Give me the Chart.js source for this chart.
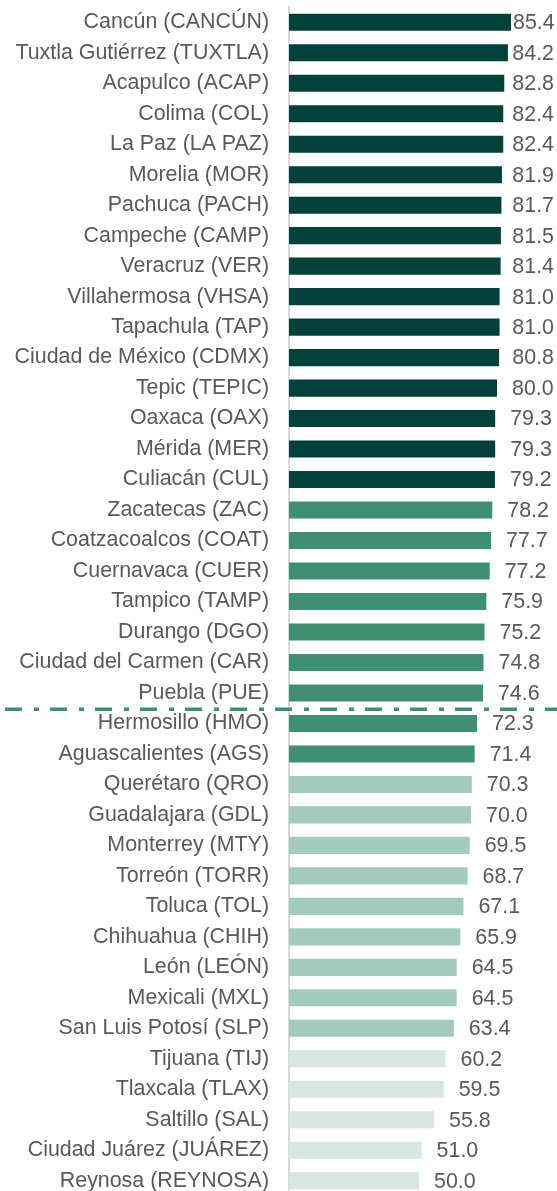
<!DOCTYPE html>
<html lang="es">
<head>
<meta charset="utf-8">
<title>Ciudades</title>
<script src="https://cdn.jsdelivr.net/npm/chart.js@4"></script>
<style>
    html, body { margin: 0; padding: 0; background: #fff; overflow: hidden; }
    #wrap { position: relative; width: 557px; height: 1196px; }
</style>
</head>
<body>
<div id="wrap"><canvas id="cityChart"></canvas></div>
<script>
const cities = [
    'Cancún (CANCÚN)', 'Tuxtla Gutiérrez (TUXTLA)', 'Acapulco (ACAP)', 'Colima (COL)',
    'La Paz (LA PAZ)', 'Morelia (MOR)', 'Pachuca (PACH)', 'Campeche (CAMP)',
    'Veracruz (VER)', 'Villahermosa (VHSA)', 'Tapachula (TAP)', 'Ciudad de México (CDMX)',
    'Tepic (TEPIC)', 'Oaxaca (OAX)', 'Mérida (MER)', 'Culiacán (CUL)',
    'Zacatecas (ZAC)', 'Coatzacoalcos (COAT)', 'Cuernavaca (CUER)', 'Tampico (TAMP)',
    'Durango (DGO)', 'Ciudad del Carmen (CAR)', 'Puebla (PUE)', 'Hermosillo (HMO)',
    'Aguascalientes (AGS)', 'Querétaro (QRO)', 'Guadalajara (GDL)', 'Monterrey (MTY)',
    'Torreón (TORR)', 'Toluca (TOL)', 'Chihuahua (CHIH)', 'León (LEÓN)',
    'Mexicali (MXL)', 'San Luis Potosí (SLP)', 'Tijuana (TIJ)', 'Tlaxcala (TLAX)',
    'Saltillo (SAL)', 'Ciudad Juárez (JUÁREZ)', 'Reynosa (REYNOSA)'
];
const scores = [
    85.4, 84.2, 82.8, 82.4, 82.4, 81.9, 81.7, 81.5, 81.4, 81.0, 81.0, 80.8, 80.0, 79.3, 79.3, 79.2,
    78.2, 77.7, 77.2, 75.9, 75.2, 74.8, 74.6, 72.3, 71.4,
    70.3, 70.0, 69.5, 68.7, 67.1, 65.9, 64.5, 64.5, 63.4,
    60.2, 59.5, 55.8, 51.0, 50.0
];
// group of each city: 0 = top, 1 = upper-middle, 2 = lower-middle, 3 = bottom
const groups = [
    0, 0, 0, 0, 0, 0, 0, 0, 0, 0, 0, 0, 0, 0, 0, 0,
    1, 1, 1, 1, 1, 1, 1, 1, 1,
    2, 2, 2, 2, 2, 2, 2, 2, 2,
    3, 3, 3, 3, 3
];
const groupColors = ['#03403a', '#3f9073', '#a3cbbd', '#d5e7e0'];
const cutAfter = 22; // dashed separator below Puebla

const textColor = '#595959';
const fontFamily = '"Liberation Sans", Arial, sans-serif';
const fontSize = 21.4;

// value labels just past the bar end, kept inside the canvas
const valueLabels = {
    id: 'valueLabels',
    afterDatasetsDraw(chart) {
        const ctx = chart.ctx;
        const meta = chart.getDatasetMeta(0);
        ctx.save();
        ctx.font = fontSize + 'px ' + fontFamily;
        ctx.fillStyle = textColor;
        ctx.textBaseline = 'middle';
        ctx.textAlign = 'left';
        meta.data.forEach(function (bar, i) {
            const txt = scores[i].toFixed(1);
            const w = ctx.measureText(txt).width;
            let x = bar.x + 15;
            if (x + w > chart.width - 3) x = Math.max(bar.x + 2, chart.width - 3 - w);
            ctx.fillText(txt, x, bar.y + 1);
        });
        ctx.restore();
    }
};

// dash-dot separator line across the whole width
const separator = {
    id: 'separator',
    afterDraw(chart) {
        const y = chart.scales.y;
        const yy = (y.getPixelForTick(cutAfter) + y.getPixelForTick(cutAfter + 1)) / 2 + 1;
        const ctx = chart.ctx;
        ctx.save();
        ctx.strokeStyle = '#3f9073';
        ctx.lineWidth = 3.5;
        ctx.setLineDash([17, 12, 5, 11]);
        ctx.lineDashOffset = -5;
        ctx.beginPath();
        ctx.moveTo(0, yy);
        ctx.lineTo(chart.width, yy);
        ctx.stroke();
        ctx.restore();
    }
};

const ctx = document.getElementById('cityChart').getContext('2d');
new Chart(ctx, {
    type: 'bar',
    data: {
        labels: cities,
        datasets: [{
            data: scores,
            backgroundColor: groups.map(g => groupColors[g]),
            borderWidth: 0,
            barPercentage: 0.56,
            categoryPercentage: 1.0
        }]
    },
    options: {
        indexAxis: 'y',
        responsive: true,
        maintainAspectRatio: false,
        animation: false,
        layout: { padding: { top: 7, right: 8, bottom: 0, left: 0 } },
        plugins: {
            legend: { display: false },
            tooltip: { enabled: false }
        },
        scales: {
            x: {
                display: false,
                min: 0,
                max: 100
            },
            y: {
                grid: { display: false, drawTicks: false },
                border: { display: true, color: '#d9d9d9', width: 2 },
                ticks: {
                    color: textColor,
                    font: { family: fontFamily, size: fontSize },
                    padding: 20,
                    autoSkip: false
                },
                afterFit(scale) {
                    scale.width = 289;
                    // no extra room above/below for the first and last labels
                    scale.paddingTop = 0;
                    scale.paddingBottom = 0;
                }
            }
        }
    },
    plugins: [valueLabels, separator]
});
</script>
</body>
</html>
